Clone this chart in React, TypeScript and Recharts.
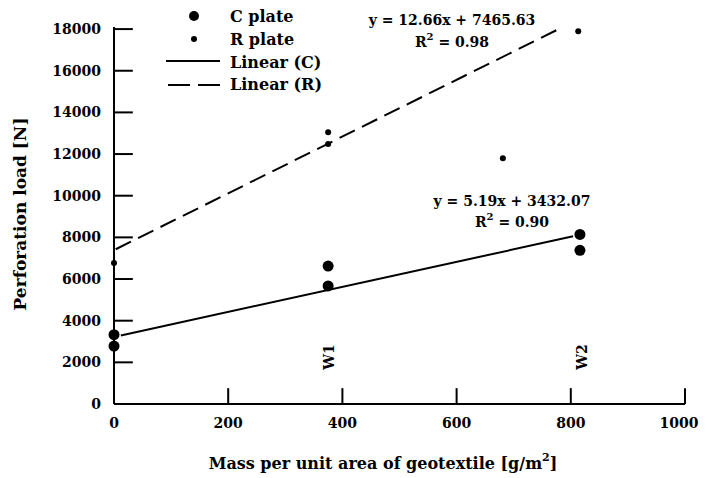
import { ScatterChart, Scatter, XAxis, YAxis, ReferenceLine } from 'recharts';

// measured points (mass per unit area, perforation load)
const cPlate = [
  { x: 0, y: 3330 },
  { x: 0, y: 2780 },
  { x: 375, y: 6620 },
  { x: 375, y: 5670 },
  { x: 816, y: 8140 },
  { x: 816, y: 7380 },
];

const rPlate = [
  { x: 0, y: 6770 },
  { x: 375, y: 13050 },
  { x: 375, y: 12480 },
  { x: 681, y: 11800 },
  { x: 813, y: 17900 },
];

// trendline end points as drawn
const linearC = [
  { x: 12, y: 3290 },
  { x: 804, y: 8050 },
];

const linearR = [
  { x: 3, y: 7430 },
  { x: 786, y: 18100 },
];

const xTicks = [0, 200, 400, 600, 800, 1000];
const yTicks = [0, 2000, 4000, 6000, 8000, 10000, 12000, 14000, 16000, 18000];

// inward tick mark lengths, in axis units
const Y_TICK_LEN = 33;
const X_TICK_LEN = 760;

const W = 691;
const H = 470;
const FONT = '"DejaVu Serif", "Liberation Serif", serif';

function YTick(props: any) {
  const x = Number(props.x);
  const y = Number(props.y);
  return (
    <text x={x - 13} y={y} textAnchor="end" dominantBaseline="central" fontFamily={FONT} fontSize={14} fontWeight="bold" fill="#000">
      {props.payload.value}
    </text>
  );
}

function XTick(props: any) {
  const x = Number(props.x);
  const y = Number(props.y);
  const v = props.payload.value;
  // keep the last label inside the page
  const dx = v === 1000 ? -6 : 0;
  return (
    <text x={x + dx} y={y + 19} textAnchor="middle" dominantBaseline="central" fontFamily={FONT} fontSize={14} fontWeight="bold" fill="#000">
      {v}
    </text>
  );
}

function BigDot(props: any) {
  return <circle cx={props.cx} cy={props.cy} r={5.5} fill="#000" />;
}

function SmallDot(props: any) {
  return <circle cx={props.cx} cy={props.cy} r={3} fill="#000" />;
}

function NoDot() {
  return <g />;
}

export default function App() {
  return (
    <div style={{ position: 'relative', width: W, height: H, background: '#fff' }}>
      <ScatterChart width={W} height={H} margin={{ top: 19, right: 14, left: 0, bottom: 44 }}>
        <XAxis
          type="number"
          dataKey="x"
          domain={[0, 1000]}
          ticks={xTicks}
          interval={0}
          height={30}
          tickSize={0}
          tickMargin={0}
          tickLine={false}
          tick={XTick}
          axisLine={{ stroke: '#000', strokeWidth: 2 }}
        />
        <YAxis
          type="number"
          dataKey="y"
          domain={[0, 18000]}
          ticks={yTicks}
          interval={0}
          width={106}
          tickSize={0}
          tickMargin={0}
          tickLine={false}
          tick={YTick}
          axisLine={{ stroke: '#000', strokeWidth: 2 }}
        />
        {yTicks.slice(1).map((v) => (
          <ReferenceLine
            key={`y${v}`}
            segment={[{ x: 0, y: v }, { x: Y_TICK_LEN, y: v }]}
            stroke="#000"
            strokeWidth={2}
            ifOverflow="visible"
          />
        ))}
        {xTicks.slice(1).map((v) => (
          <ReferenceLine
            key={`x${v}`}
            segment={[{ x: v, y: 0 }, { x: v, y: X_TICK_LEN }]}
            stroke="#000"
            strokeWidth={2}
            ifOverflow="visible"
          />
        ))}
        <Scatter
          data={linearR}
          shape={NoDot}
          line={{ stroke: '#000', strokeWidth: 2, strokeDasharray: '17 8' }}
          isAnimationActive={false}
        />
        <Scatter
          data={linearC}
          shape={NoDot}
          line={{ stroke: '#000', strokeWidth: 2 }}
          isAnimationActive={false}
        />
        <Scatter data={cPlate} shape={BigDot} isAnimationActive={false} />
        <Scatter data={rPlate} shape={SmallDot} isAnimationActive={false} />
      </ScatterChart>

      <svg
        width={W}
        height={H}
        style={{ position: 'absolute', left: 0, top: 0, pointerEvents: 'none' }}
        fontFamily={FONT}
        fontWeight="bold"
        fill="#000"
      >
        {/* legend */}
        <circle cx={186} cy={8} r={5} />
        <text x={222} y={8} fontSize={16} dominantBaseline="central">C plate</text>
        <circle cx={186} cy={31} r={3} />
        <text x={222} y={31} fontSize={16} dominantBaseline="central">R plate</text>
        <line x1={158} y1={53} x2={212} y2={53} stroke="#000" strokeWidth={2} />
        <text x={222} y={54} fontSize={16} dominantBaseline="central">Linear (C)</text>
        <line x1={160} y1={77} x2={212} y2={77} stroke="#000" strokeWidth={2} strokeDasharray="22 8" />
        <text x={222} y={76} fontSize={16} dominantBaseline="central">Linear (R)</text>

        {/* trendline equations */}
        <text x={444} y={12} fontSize={14} textAnchor="middle" dominantBaseline="central">
          y = 12.66x + 7465.63
        </text>
        <text x={444} y={34} fontSize={14} textAnchor="middle" dominantBaseline="central">
          R<tspan dy={-6} fontSize={10}>2</tspan>
          <tspan dy={6}> = 0.98</tspan>
        </text>
        <text x={504} y={193} fontSize={14} textAnchor="middle" dominantBaseline="central">
          y = 5.19x + 3432.07
        </text>
        <text x={504} y={214} fontSize={14} textAnchor="middle" dominantBaseline="central">
          R<tspan dy={-6} fontSize={10}>2</tspan>
          <tspan dy={6}> = 0.90</tspan>
        </text>

        {/* geotextile markers */}
        <text x={321} y={349} fontSize={14} textAnchor="middle" dominantBaseline="central" transform="rotate(-90 321 349)">
          W1
        </text>
        <text x={574} y={349} fontSize={14} textAnchor="middle" dominantBaseline="central" transform="rotate(-90 574 349)">
          W2
        </text>

        {/* axis titles */}
        <text x={375} y={455} fontSize={16} textAnchor="middle" dominantBaseline="central">
          Mass per unit area of geotextile [g/m<tspan dy={-6} fontSize={11}>2</tspan>
          <tspan dy={6}>]</tspan>
        </text>
        <text x={12} y={206} fontSize={17} textAnchor="middle" dominantBaseline="central" transform="rotate(-90 12 206)">
          Perforation load [N]
        </text>
      </svg>
    </div>
  );
}
